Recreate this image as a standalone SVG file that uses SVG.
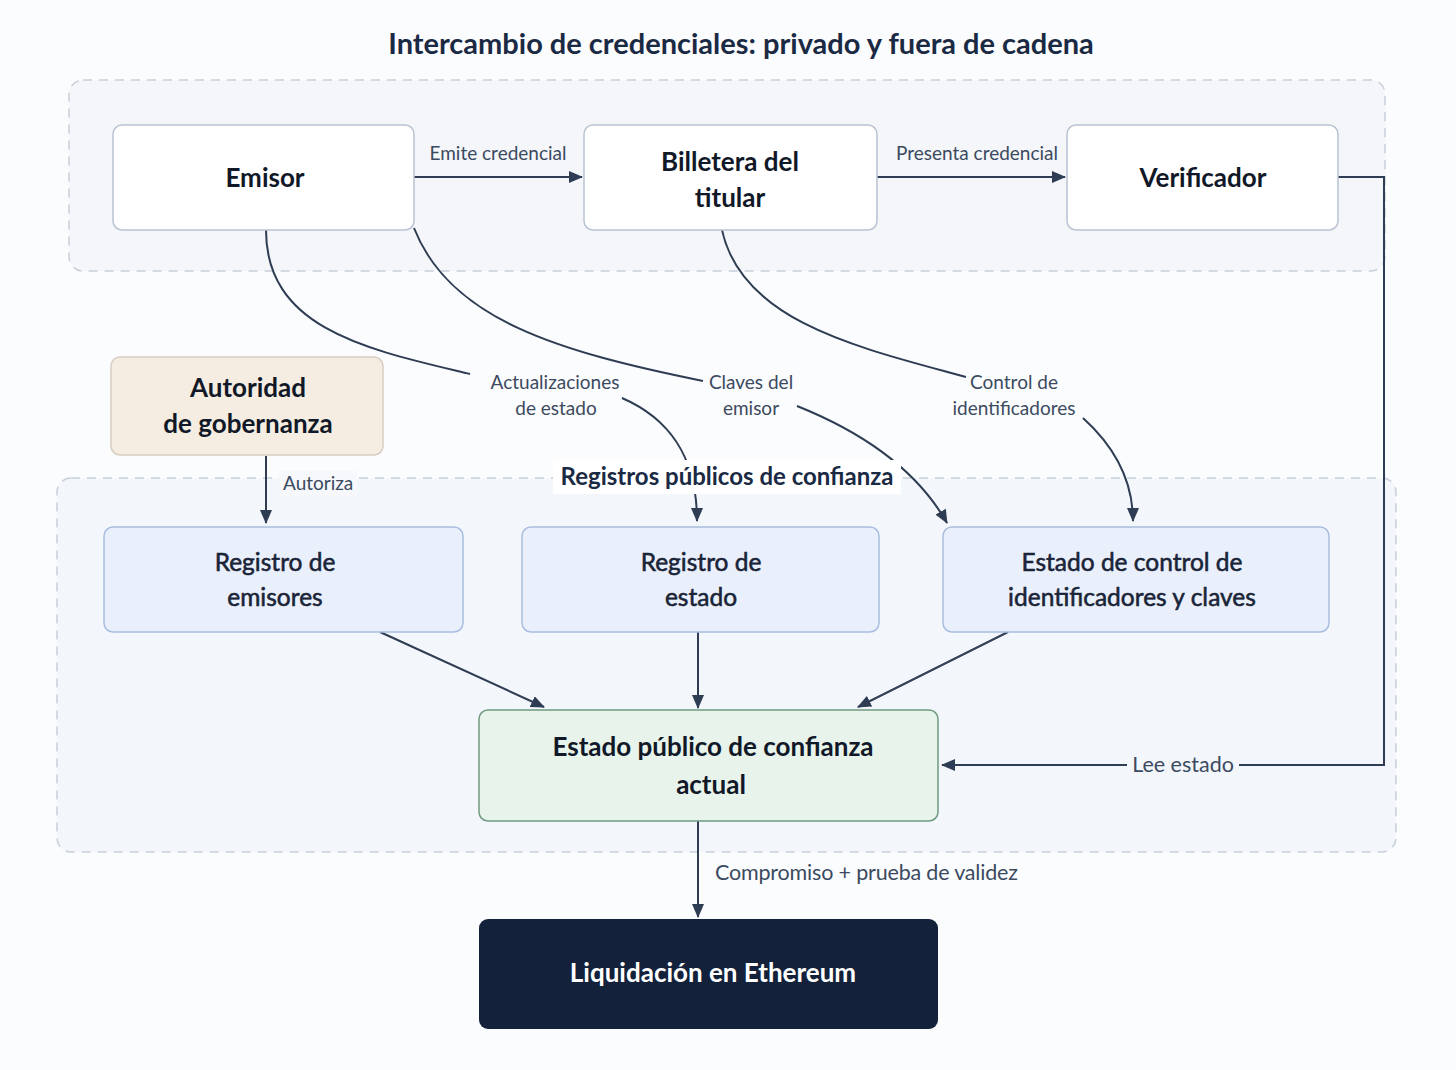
<svg xmlns="http://www.w3.org/2000/svg" width="1456" height="1070" viewBox="0 0 1456 1070">
<defs>
<marker id="ah" markerUnits="userSpaceOnUse" markerWidth="14" markerHeight="12" refX="13" refY="6" orient="auto">
<path d="M0,0 L14,6 L0,12 z" fill="#2e3d54"/>
</marker>
<style>
.t{font-family:Lato,"Open Sans","Liberation Sans",sans-serif;}
.title{font-size:29px;font-weight:700;fill:#1b2a44;}
.nt{font-size:26px;font-weight:700;fill:#111827;text-anchor:middle;}
.rt{font-size:24.5px;font-weight:400;fill:#1a2438;stroke:#1a2438;stroke-width:0.55;text-anchor:middle;}
.lbl{font-size:19px;fill:#3b4a60;}
.lblc{font-size:19px;fill:#3b4a60;text-anchor:middle;}
.big{font-size:21.5px;}
.cl{stroke:#c7cfda;stroke-width:1.5;stroke-dasharray:9 7;}
.ln{fill:none;stroke:#2e3d54;stroke-width:2;}
.wb{fill:#ffffff;stroke:#b9c4d3;stroke-width:1.5;}
.rb{fill:#e9f0fb;stroke:#a8bde0;stroke-width:1.5;}
</style>
</defs>
<rect x="0" y="0" width="1456" height="1070" fill="#fbfcfd"/>
<text class="t title" x="741" y="54" text-anchor="middle">Intercambio de credenciales: privado y fuera de cadena</text>

<g id="cluster-private">
<rect class="cl" x="69" y="80" width="1316" height="191" rx="14" fill="#f4f6f9"/>
</g>
<g id="cluster-public">
<rect class="cl" x="57" y="478" width="1339" height="374" rx="14" fill="#f3f6fb"/>
</g>

<g id="connectors">
<path class="ln" d="M414,177 H582" marker-end="url(#ah)"/>
<rect x="424" y="141" width="148" height="26" fill="#f4f6f9"/>
<text class="t lbl" x="498" y="160" text-anchor="middle">Emite credencial</text>

<path class="ln" d="M877,177 H1065" marker-end="url(#ah)"/>
<rect x="892" y="141" width="170" height="26" fill="#f4f6f9"/>
<text class="t lbl" x="977" y="160" text-anchor="middle">Presenta credencial</text>

<path class="ln" d="M1338,177 H1384 V765 H942" marker-end="url(#ah)"/>
<rect x="1127" y="749" width="112" height="31" fill="#f3f6fb"/>
<text class="t lbl big" x="1183" y="772" text-anchor="middle">Lee estado</text>

<path class="ln" d="M266,230 C266,330 370,350 470,374"/>
<path class="ln" d="M414,228 C450,320 560,352 703,381"/>
<path class="ln" d="M722,230 C742,322 860,348 966,377"/>
<text class="t lblc" x="555" y="389">Actualizaciones</text>
<text class="t lblc" x="556" y="415">de estado</text>
<text class="t lblc" x="751" y="389">Claves del</text>
<text class="t lblc" x="751" y="415">emisor</text>
<text class="t lblc" x="1014" y="389">Control de</text>
<text class="t lblc" x="1014" y="415">identificadores</text>

<path class="ln" d="M622,398 C668,418 697,455 697,521" marker-end="url(#ah)"/>
<path class="ln" d="M797,406 C862,432 917,470 947,523" marker-end="url(#ah)"/>
<path class="ln" d="M1083,418 C1115,447 1133,480 1133,521" marker-end="url(#ah)"/>

<path class="ln" d="M266,456 V523" marker-end="url(#ah)"/>
<rect x="279" y="471" width="78" height="26" fill="#f6f8fb"/>
<text class="t lbl" x="283" y="490">Autoriza</text>

<path class="ln" d="M380,632 L544,707" marker-end="url(#ah)"/>
<path class="ln" d="M698,632 V708" marker-end="url(#ah)"/>
<path class="ln" d="M1008,632 L858,707" marker-end="url(#ah)"/>

<path class="ln" d="M698,821 V917" marker-end="url(#ah)"/>
<text class="t lbl big" x="715" y="880" textLength="303" lengthAdjust="spacing">Compromiso + prueba de validez</text>
</g>

<g id="cluster-public-title">
<rect x="553" y="460" width="348" height="34" fill="#ffffff"/>
<text class="t" x="727" y="485" text-anchor="middle" font-size="24" font-weight="700" fill="#1b2a44">Registros públicos de confianza</text>
</g>

<g id="emisor">
<rect class="wb" x="113" y="125" width="301" height="105" rx="9"/>
<text class="t nt" x="265" y="187">Emisor</text>
</g>
<g id="billetera">
<rect class="wb" x="584" y="125" width="293" height="105" rx="9"/>
<text class="t nt" x="730" y="171">Billetera del</text>
<text class="t nt" x="730" y="207">titular</text>
</g>
<g id="verificador">
<rect class="wb" x="1067" y="125" width="271" height="105" rx="9"/>
<text class="t nt" x="1203" y="187">Verificador</text>
</g>
<g id="autoridad">
<rect x="111" y="357" width="272" height="98" rx="9" fill="#f5ede2" stroke="#d8cdc0" stroke-width="1.5"/>
<text class="t nt" x="248" y="397">Autoridad</text>
<text class="t nt" x="248" y="433">de gobernanza</text>
</g>
<g id="registro-emisores">
<rect class="rb" x="104" y="527" width="359" height="105" rx="9"/>
<text class="t rt" x="275" y="571">Registro de</text>
<text class="t rt" x="275" y="606">emisores</text>
</g>
<g id="registro-estado">
<rect class="rb" x="522" y="527" width="357" height="105" rx="9"/>
<text class="t rt" x="701" y="571">Registro de</text>
<text class="t rt" x="701" y="606">estado</text>
</g>
<g id="estado-control">
<rect class="rb" x="943" y="527" width="386" height="105" rx="9"/>
<text class="t rt" x="1132" y="571">Estado de control de</text>
<text class="t rt" x="1132" y="606">identificadores y claves</text>
</g>
<g id="estado-publico">
<rect x="479" y="710" width="459" height="111" rx="9" fill="#e8f3ec" stroke="#6f9a80" stroke-width="1.5"/>
<text class="t nt" x="713" y="756">Estado público de confianza</text>
<text class="t nt" x="711" y="794">actual</text>
</g>
<g id="liquidacion">
<rect x="479" y="919" width="459" height="110" rx="9" fill="#13223a"/>
<text class="t nt" x="713" y="982" style="fill:#ffffff">Liquidación en Ethereum</text>
</g>
</svg>
